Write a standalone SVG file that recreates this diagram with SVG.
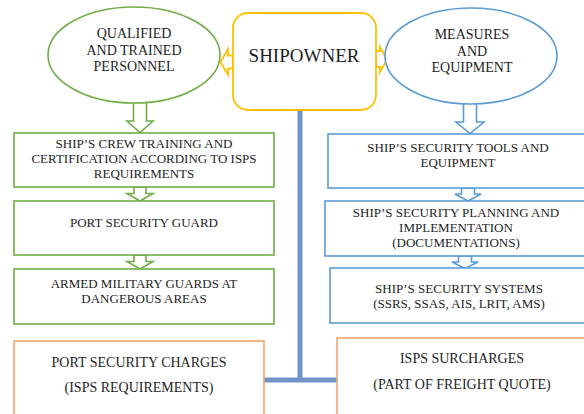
<svg xmlns="http://www.w3.org/2000/svg" width="584" height="414" viewBox="0 0 584 414" font-family="'Liberation Serif', 'DejaVu Serif', serif">
  <style>
    text { fill: #1e1e1e; text-anchor: middle; }
    .t13 { font-size: 13px; }
    .t14 { font-size: 14px; }
    .t19 { font-size: 19px; }
    .green { fill: #ffffff; stroke: #70AD47; stroke-width: 1.6; }
    .blue { fill: #ffffff; stroke: #5B9BD5; stroke-width: 1.6; }
    .orange { fill: #ffffff; stroke: #F4A46C; stroke-width: 1.6; }
    .yellow { fill: #ffffff; stroke: #FFC000; stroke-width: 1.8; }
    .bar { fill: none; stroke: #6F93C6; stroke-width: 5; }
  </style>
  <rect width="584" height="414" fill="#ffffff"/>

  <!-- connectors: block arrows and the charge bar -->
  <g id="connectors">
    <!-- ellipse to first box, left column -->
    <polygon class="green" points="133.5,102 146.5,102 146.5,121 153,121 140,132.5 127,121 133.5,121"/>
    <polygon class="green" points="134,187 146,187 146,193.5 153,193.5 140,201 127,193.5 134,193.5"/>
    <polygon class="green" points="134,255 146,255 146,261.5 153,261.5 140,269 127,261.5 134,261.5"/>
    <!-- ellipse to first box, right column -->
    <polygon class="blue" points="463.5,103 476.5,103 476.5,122 484,122 470,133.5 456,122 463.5,122"/>
    <polygon class="blue" points="461.5,188 474.5,188 474.5,194 481,194 468,201 455,194 461.5,194"/>
    <polygon class="blue" points="458.5,256 471.5,256 471.5,262 478,262 465,268.5 452,262 458.5,262"/>
    <!-- shipowner to both sides -->
    <polygon class="yellow" points="233,55.5 228,55.5 228,49 220.5,62 228,75 228,68.5 233,68.5"/>
    <polygon class="yellow" points="376,51 380,51 380,47 387,59.5 380,72 380,67 376,67"/>
    <!-- shipowner down to the charges -->
    <line class="bar" x1="300" y1="110" x2="300" y2="380"/>
    <line class="bar" x1="263" y1="380" x2="337" y2="380"/>
  </g>

  <g id="shipowner">
    <rect class="yellow" x="233" y="13" width="143" height="97" rx="15" ry="15"/>
    <text class="t19" x="304" y="62">SHIPOWNER</text>
  </g>

  <g id="qualified-personnel">
    <ellipse class="green" cx="134" cy="55" rx="86" ry="48"/>
    <text class="t14" x="134" y="38">QUALIFIED</text>
    <text class="t14" x="134" y="54.5">AND TRAINED</text>
    <text class="t14" x="134" y="71">PERSONNEL</text>
  </g>

  <g id="measures-equipment">
    <ellipse class="blue" cx="471" cy="56" rx="86" ry="48"/>
    <text class="t14" x="472" y="39">MEASURES</text>
    <text class="t14" x="472" y="55.5">AND</text>
    <text class="t14" x="472" y="72">EQUIPMENT</text>
  </g>

  <g id="crew-training">
    <rect class="green" x="14" y="133" width="260" height="54"/>
    <text class="t13" x="144" y="148">SHIP’S CREW TRAINING AND</text>
    <text class="t13" x="144" y="163">CERTIFICATION ACCORDING TO ISPS</text>
    <text class="t13" x="144" y="178">REQUIREMENTS</text>
  </g>

  <g id="port-guard">
    <rect class="green" x="14" y="201" width="260" height="54"/>
    <text class="t13" x="144" y="227">PORT SECURITY GUARD</text>
  </g>

  <g id="armed-guards">
    <rect class="green" x="14" y="269" width="260" height="55"/>
    <text class="t13" x="144" y="288">ARMED MILITARY GUARDS AT</text>
    <text class="t13" x="144" y="303">DANGEROUS AREAS</text>
  </g>

  <g id="security-tools">
    <rect class="blue" x="328" y="134" width="258" height="54"/>
    <text class="t13" x="458" y="152">SHIP’S SECURITY TOOLS AND</text>
    <text class="t13" x="458" y="167">EQUIPMENT</text>
  </g>

  <g id="security-planning">
    <rect class="blue" x="325" y="201" width="261" height="55"/>
    <text class="t13" x="456" y="217">SHIP’S SECURITY PLANNING AND</text>
    <text class="t13" x="456" y="232">IMPLEMENTATION</text>
    <text class="t13" x="456" y="246.5">(DOCUMENTATIONS)</text>
  </g>

  <g id="security-systems">
    <rect class="blue" x="330" y="268" width="256" height="55"/>
    <text class="t13" x="459" y="293">SHIP’S SECURITY SYSTEMS</text>
    <text class="t13" x="459" y="307.5">(SSRS, SSAS, AIS, LRIT, AMS)</text>
  </g>

  <g id="port-charges">
    <rect class="orange" x="14" y="341" width="250" height="80"/>
    <text class="t14" x="139" y="367">PORT SECURITY CHARGES</text>
    <text class="t14" x="139" y="392">(ISPS REQUIREMENTS)</text>
  </g>

  <g id="isps-surcharges">
    <rect class="orange" x="337" y="338" width="252" height="83"/>
    <text class="t14" x="462" y="363">ISPS SURCHARGES</text>
    <text class="t14" x="462" y="389">(PART OF FREIGHT QUOTE)</text>
  </g>
</svg>
